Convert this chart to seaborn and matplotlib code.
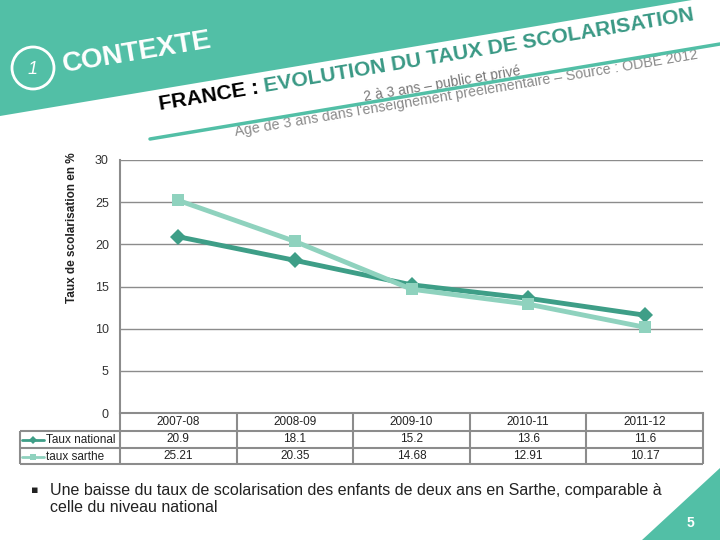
import numpy as np
import pandas as pd
import matplotlib
matplotlib.use("Agg")
import matplotlib.pyplot as plt
import seaborn as sns
from matplotlib.patches import Polygon, Ellipse
from matplotlib.lines import Line2D

# ---------------- data ----------------
years = ['2007-08', '2008-09', '2009-10', '2010-11', '2011-12']
national = [20.9, 18.1, 15.2, 13.6, 11.6]
sarthe = [25.21, 20.35, 14.68, 12.91, 10.17]
national_txt = ['20.9', '18.1', '15.2', '13.6', '11.6']
sarthe_txt = ['25.21', '20.35', '14.68', '12.91', '10.17']
series_names = ['Taux national', 'taux sarthe']
yticks = [0, 5, 10, 15, 20, 25, 30]

TEAL = '#52BFA6'
DARK_TEAL = '#3A9985'
C_NAT = '#3E9E87'
C_SAR = '#8FD2BE'
GRID = '#8c8c8c'

sns.set_theme(style='white')
plt.rcParams['font.family'] = ['Liberation Sans', 'DejaVu Sans']

W, H = 720, 540
fig = plt.figure(figsize=(7.2, 5.4), dpi=100)

def P(x, y):
    return (x / W, 1 - y / H)

# ---------------- chart ----------------
ax_left, ax_top, ax_right, ax_bottom = 120, 160, 703, 413
ax = fig.add_axes([ax_left / W, 1 - ax_bottom / H, (ax_right - ax_left) / W, (ax_bottom - ax_top) / H])

df = pd.DataFrame({
    'year': years * 2,
    'value': national + sarthe,
    'series': [series_names[0]] * len(years) + [series_names[1]] * len(years),
})
sns.lineplot(data=df, x='year', y='value', hue='series', style='series',
             palette={series_names[0]: C_NAT, series_names[1]: C_SAR},
             markers={series_names[0]: 'D', series_names[1]: 's'},
             dashes=False, linewidth=3.5, markersize=8, markeredgewidth=0,
             legend=False, ax=ax, zorder=3)

ax.set_xlim(-0.5, len(years) - 0.5)
ax.set_ylim(0, 30)
ax.set_yticks(yticks)
ax.set_yticklabels([str(v) for v in yticks], fontsize=9, color='#333333')
ax.tick_params(axis='y', length=0, pad=8)
ax.tick_params(axis='x', length=0, labelbottom=False)
ax.set_xlabel('')
ax.set_ylabel('')
ax.yaxis.grid(True, color=GRID, lw=1)
ax.xaxis.grid(False)
for s in ['top', 'right']:
    ax.spines[s].set_visible(False)
for s in ['left', 'bottom']:
    ax.spines[s].set_color(GRID)
    ax.spines[s].set_linewidth(1.5)

fig.text(*P(72, 228), 'Taux de scolarisation en %', rotation=90, ha='center', va='center',
         fontsize=8.5, fontweight='bold', color='#222222')

# ---------------- data table ----------------
tr = ax.get_xaxis_transform()
axh = ax_bottom - ax_top
catw = (ax_right - ax_left) / len(years)
y_rows = [0, -18 / axh, -35 / axh, -51 / axh]
x_lab_left = -0.5 - (ax_left - 20) / catw
x_first = -0.5
x_last = len(years) - 0.5
lk = dict(color=GRID, lw=1.5, transform=tr, clip_on=False, solid_capstyle='butt')
for yr in y_rows[1:]:
    ax.plot([x_lab_left, x_last], [yr, yr], **lk)
for i in range(len(years) + 1):
    xv = x_first + i
    ax.plot([xv, xv], [y_rows[0], y_rows[3]], **lk)
ax.plot([x_lab_left, x_lab_left], [y_rows[1], y_rows[3]], **lk)

tk = dict(transform=tr, clip_on=False, ha='center', va='center', fontsize=8.5, color='#222222')
for i, yv in enumerate(years):
    ax.text(i, (y_rows[0] + y_rows[1]) / 2, yv, **tk)
    ax.text(i, (y_rows[1] + y_rows[2]) / 2, national_txt[i], **tk)
    ax.text(i, (y_rows[2] + y_rows[3]) / 2, sarthe_txt[i], **tk)

for r, (name, col, mk) in enumerate(zip(series_names, [C_NAT, C_SAR], ['D', 's'])):
    yc = 440 + r * 16.5
    fig.add_artist(Line2D([22 / W, 44 / W], [1 - yc / H, 1 - yc / H], color=col, lw=2,
                          transform=fig.transFigure))
    fig.add_artist(Line2D([33 / W], [1 - yc / H], color=col, marker=mk, markersize=4.5,
                          markeredgewidth=0, transform=fig.transFigure))
    fig.text(*P(46, yc), name, ha='left', va='center', fontsize=8.5, color='#222222')

# ---------------- slide decoration ----------------
fig.add_artist(Polygon([P(0, 0), P(692, 0), P(0, 116)], closed=True, facecolor=TEAL,
                       edgecolor='none', transform=fig.transFigure, zorder=0))
fig.add_artist(Polygon([P(642, 540), P(720, 540), P(720, 468)], closed=True, facecolor=TEAL,
                       edgecolor='none', transform=fig.transFigure, zorder=0))
fig.text(*P(690, 523), '5', color='white', fontsize=10, fontweight='bold', ha='center', va='center')

fig.add_artist(Ellipse(P(33, 68), 42 / W, 42 / H, facecolor='none', edgecolor='white', lw=2,
                       transform=fig.transFigure))
fig.text(*P(33, 69), '1', color='white', fontsize=13, fontstyle='italic', ha='center', va='center')

ANG = 9.5
fig.text(*P(64, 72), 'CONTEXTE', color='white', fontsize=20, fontweight='bold',
         rotation=ANG, rotation_mode='anchor', ha='left', va='baseline')

fig.text(*P(365, 101), '2 à 3 ans – public et privé', color='#777777', fontsize=10,
         rotation=ANG, rotation_mode='anchor', ha='left', va='baseline')
fig.text(*P(236, 136), "Age de 3 ans dans l'enseignement préélémentaire – Source : ODBE 2012",
         color='#8a8a8a', fontsize=10.3, rotation=ANG, rotation_mode='anchor', ha='left', va='baseline')

fig.add_artist(Line2D([150 / W, 720 / W], [1 - 139 / H, 1 - 44 / H], color=TEAL, lw=2.5,
                      transform=fig.transFigure, zorder=5))

# two-colour rotated title
title_fs = 15.2
x0, y0 = 160, 110
first = 'FRANCE : '
fig.text(*P(x0, y0), first, color='black', fontsize=title_fs, fontweight='bold',
         rotation=ANG, rotation_mode='anchor', ha='left', va='baseline')
renderer = fig.canvas.get_renderer()
tmp = fig.text(0, 0, first, fontsize=title_fs, fontweight='bold')
wpx = tmp.get_window_extent(renderer=renderer).width
tmp.remove()
a = np.deg2rad(ANG)
x1, y1 = x0 + wpx * np.cos(a), y0 - wpx * np.sin(a)
fig.text(*P(x1, y1), 'EVOLUTION DU TAUX DE SCOLARISATION', color=DARK_TEAL, fontsize=title_fs,
         fontweight='bold', rotation=ANG, rotation_mode='anchor', ha='left', va='baseline')

# bullet text
fig.text(*P(31, 490), '▪', fontsize=8, color='#222222', ha='left', va='center',
         family=['DejaVu Sans'])
fig.text(*P(50, 490), 'Une baisse du taux de scolarisation des enfants de deux ans en Sarthe, comparable à',
         fontsize=11.5, color='#222222', ha='left', va='center')
fig.text(*P(50, 508), 'celle du niveau national', fontsize=11.5, color='#222222', ha='left', va='center')

fig.savefig('out.png', dpi=100)
